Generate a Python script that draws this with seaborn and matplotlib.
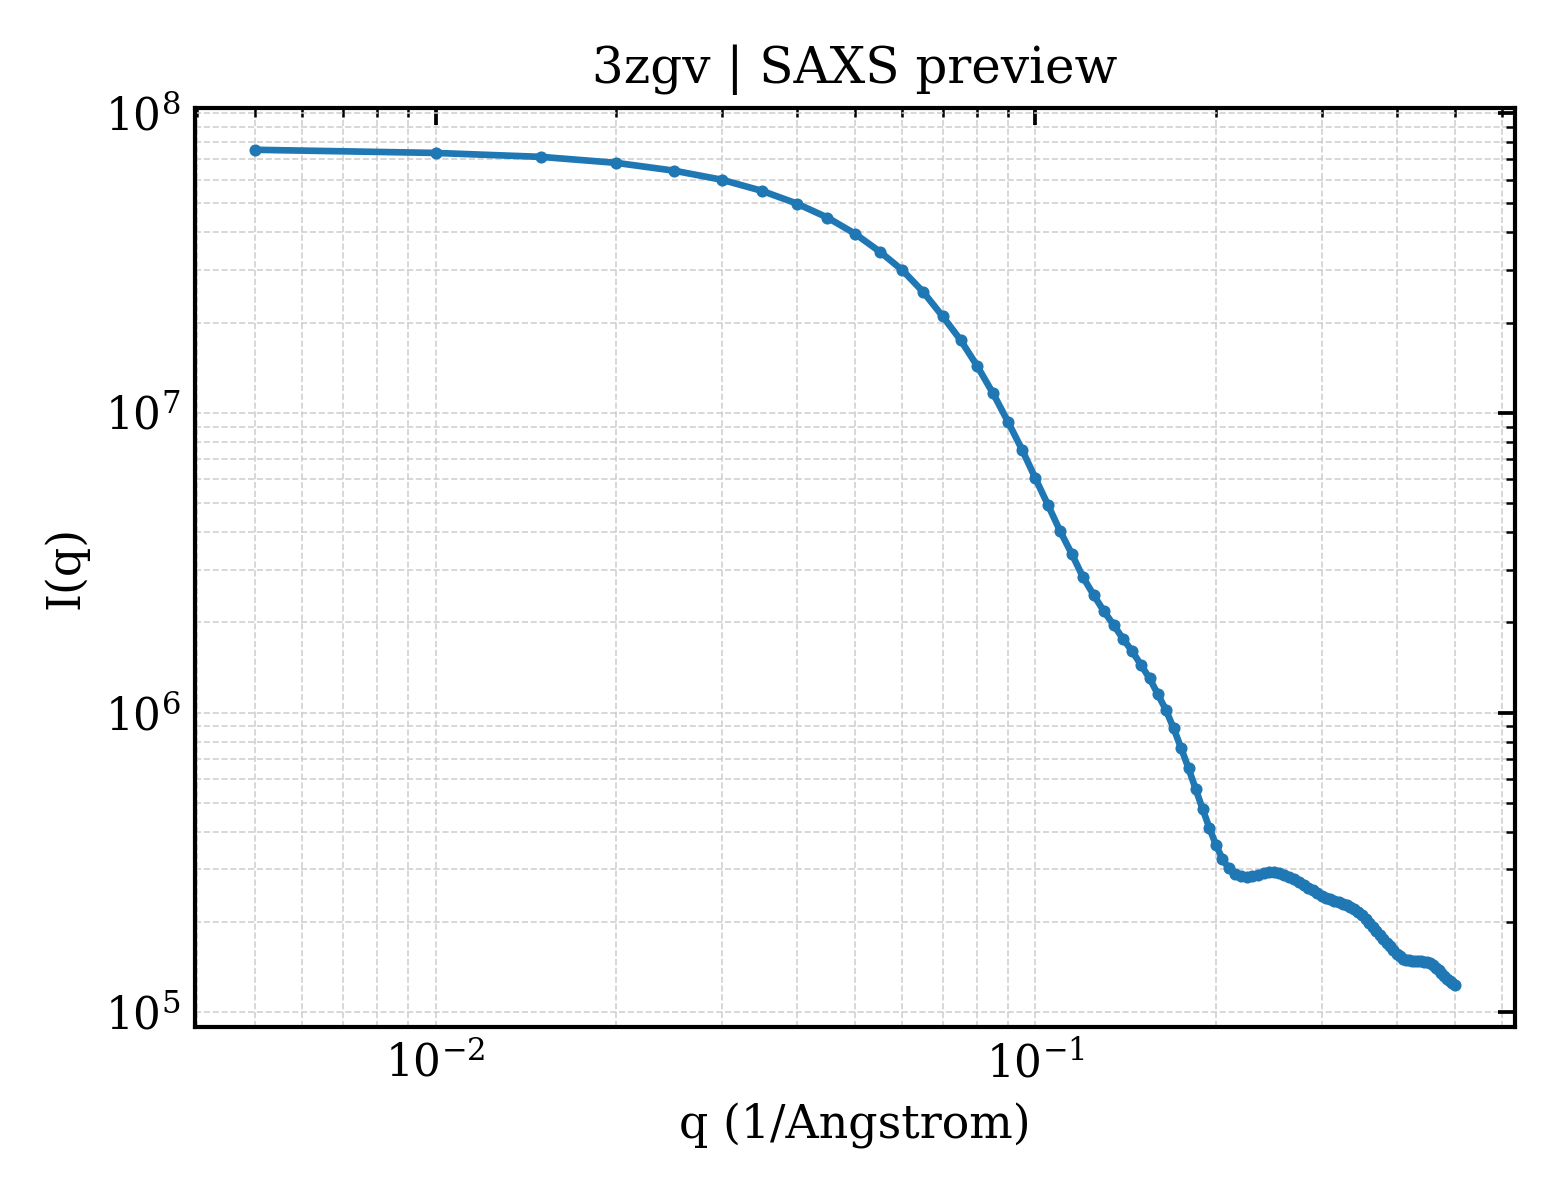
import numpy as np
import pandas as pd
import matplotlib
matplotlib.use("Agg")
import matplotlib.pyplot as plt
import seaborn as sns

# q values (1/Angstrom)
q_values = [round(0.005 * k, 3) for k in range(1, 101)]

# I(q) values
intensity_low = [
    7.54e7, 7.36e7, 7.14e7, 6.82e7, 6.42e7, 5.99e7, 5.50e7, 4.99e7, 4.48e7, 3.96e7,
    3.45e7, 2.99e7, 2.53e7, 2.10e7, 1.75e7, 1.43e7, 1.16e7, 9.33e6, 7.53e6, 6.04e6,
]
intensity_mid = [
    4.91e6, 4.02e6, 3.38e6, 2.83e6, 2.47e6, 2.18e6, 1.96e6, 1.76e6, 1.60e6, 1.44e6,
    1.30e6, 1.15e6, 1.02e6, 8.85e5, 7.59e5, 6.51e5, 5.55e5, 4.76e5, 4.12e5, 3.61e5,
]
intensity_high = [
    3.25e5, 3.02e5, 2.90e5, 2.84e5, 2.82e5, 2.84e5, 2.88e5, 2.91e5, 2.93e5, 2.93e5,
    2.91e5, 2.88e5, 2.83e5, 2.78e5, 2.72e5, 2.66e5, 2.60e5, 2.55e5, 2.50e5, 2.45e5,
    2.41e5, 2.38e5, 2.35e5, 2.33e5, 2.30e5, 2.28e5, 2.25e5, 2.21e5, 2.16e5, 2.11e5,
    2.05e5, 1.99e5, 1.93e5, 1.87e5, 1.81e5, 1.76e5, 1.71e5, 1.66e5, 1.61e5, 1.57e5,
    1.54e5, 1.51e5, 1.50e5, 1.49e5, 1.485e5, 1.48e5, 1.48e5, 1.48e5, 1.475e5, 1.47e5,
    1.46e5, 1.44e5, 1.41e5, 1.38e5, 1.35e5, 1.32e5, 1.29e5, 1.27e5, 1.25e5, 1.23e5,
]
intensity = intensity_low + intensity_mid + intensity_high

title_text = "3zgv | SAXS preview"
x_label = "q (1/Angstrom)"
y_label = "I(q)"

df = pd.DataFrame({"q": q_values, "I": intensity})

sns.set_theme(style="white")
plt.rcParams["font.family"] = ["DejaVu Serif"]
plt.rcParams["mathtext.fontset"] = "dejavuserif"
plt.rcParams["axes.edgecolor"] = "black"
plt.rcParams["axes.linewidth"] = 1.0

fig, ax = plt.subplots(figsize=(5.2, 4.0), dpi=300)
fig.subplots_adjust(left=0.125, right=0.971, bottom=0.144, top=0.91)

sns.lineplot(data=df, x="q", y="I", ax=ax, color="#1f77b4", linewidth=1.6,
             marker="o", markersize=2.9, markeredgewidth=0)

ax.set_xscale("log")
ax.set_yscale("log")
ax.margins(x=0.05, y=0.05)

ax.grid(True, which="both", linestyle="--", linewidth=0.4, color="#cccccc", alpha=0.9)
ax.tick_params(which="both", direction="in", top=True, right=True, colors="black",
               labelsize=10.5)
ax.tick_params(which="major", length=4, width=0.9)
ax.tick_params(which="minor", length=2.2, width=0.6)

ax.set_title(title_text, fontsize=12, color="black")
ax.set_xlabel(x_label, fontsize=11, color="black")
ax.set_ylabel(y_label, fontsize=11, color="black")
for s in ax.spines.values():
    s.set_visible(True)
    s.set_color("black")
    s.set_linewidth(1.0)

fig.savefig("out.png", dpi=300)
